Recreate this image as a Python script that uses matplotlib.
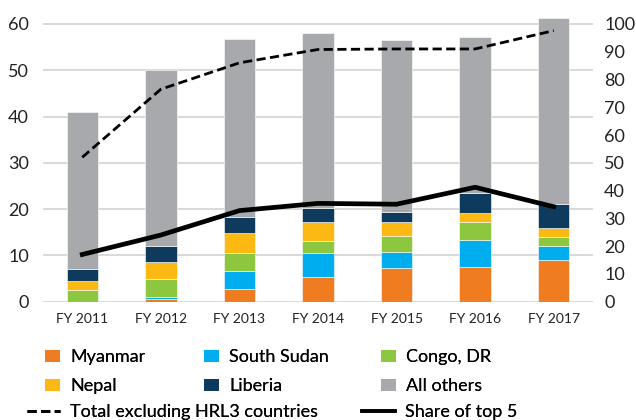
import numpy as np
import matplotlib
matplotlib.use("Agg")
import matplotlib.pyplot as plt
from matplotlib.patches import Patch
from matplotlib.lines import Line2D

plt.rcParams['font.family'] = ['Lato', 'DejaVu Sans']

years = ["FY 2011", "FY 2012", "FY 2013", "FY 2014", "FY 2015", "FY 2016", "FY 2017"]
myanmar = [0.0, 0.5, 2.8, 5.4, 7.35, 7.6, 9.0]
south_sudan = [0.0, 0.6, 3.9, 5.2, 3.45, 5.7, 3.0]
congo = [2.5, 3.7, 3.9, 2.6, 3.5, 4.0, 2.0]
nepal = [2.0, 3.8, 4.2, 4.1, 3.0, 1.9, 1.9]
liberia = [2.5, 3.4, 3.6, 2.9, 2.1, 4.2, 5.2]
others = [34.0, 38.0, 38.4, 37.8, 37.1, 33.7, 40.1]
# right axis series (percent)
total_excl = [52, 76.5, 86, 90.8, 91, 91, 97.6]
share_top5 = [17, 24, 32.8, 35.4, 35.1, 41.2, 34.2]

series = [("Myanmar", myanmar, "#F07C22"),
          ("South Sudan", south_sudan, "#00AEEF"),
          ("Congo, DR", congo, "#8DC63F"),
          ("Nepal", nepal, "#FDB913"),
          ("Liberia", liberia, "#0E3A5D"),
          ("All others", others, "#A7A9AC")]

W, H = 636, 420
fig = plt.figure(figsize=(W / 100, H / 100), dpi=100)
ax = fig.add_axes([43 / W, 1 - 301.7 / H, 550 / W, 287 / H])

x = np.arange(len(years))
bottom = np.zeros(len(years))
for name, vals, col in series:
    ax.bar(x, vals, width=0.4, bottom=bottom, color=col, edgecolor="white",
           linewidth=0.4, zorder=3)
    bottom += np.array(vals)

ax.set_xlim(-0.5, len(years) - 0.5)
ax.set_ylim(0, 62)
ax.set_yticks(range(0, 61, 10))
ax.set_xticks(x)
ax.set_xticklabels(years, fontsize=10)
ax.tick_params(axis="y", labelsize=13, length=0, pad=10, colors="#222222")
ax.tick_params(axis="x", length=0, pad=8, colors="#222222")
ax.grid(axis="y", color="#D9D9D9", linewidth=1.4, zorder=0)
for s in ax.spines.values():
    s.set_visible(False)

ax2 = ax.twinx()
ax2.set_ylim(0, 62 / 0.6)
ax2.set_yticks(range(0, 101, 10))
ax2.tick_params(axis="y", labelsize=13, length=0, pad=8, colors="#222222")
for s in ax2.spines.values():
    s.set_visible(False)
dash_style = (3.3, 1.6)
ax2.plot(x, total_excl, color="black", linewidth=2.0, dashes=dash_style, zorder=5)
ax2.plot(x, share_top5, color="black", linewidth=3.4, zorder=5)

# legend: one small legend per column so the columns sit where they do in the original
fs = 13
px = fs * 100 / 72


def add_legend(handles, labels, x0, y0, hl, hh=0.7):
    leg = fig.legend(handles, labels, loc="upper left",
                     bbox_to_anchor=(x0 / W, 1 - y0 / H), frameon=False,
                     fontsize=fs, borderpad=0, borderaxespad=0,
                     handlelength=hl / px, handleheight=hh,
                     handletextpad=10 / px, labelspacing=0.72)
    fig.add_artist(leg)


cols = [(0, 3, 45), (1, 4, 204), (2, 5, 381)]
for a, b, x0 in cols:
    add_legend([Patch(facecolor=series[a][2]), Patch(facecolor=series[b][2])],
               [series[a][0], series[b][0]], x0, 349, 15, 0.65)

add_legend([Line2D([], [], color="black", linewidth=2.0, dashes=dash_style)],
           ["Total excluding HRL3 countries"], 27, 404, 33)
add_legend([Line2D([], [], color="black", linewidth=2.6)],
           ["Share of top 5"], 362, 404, 33)

fig.savefig("out.png", dpi=100)
